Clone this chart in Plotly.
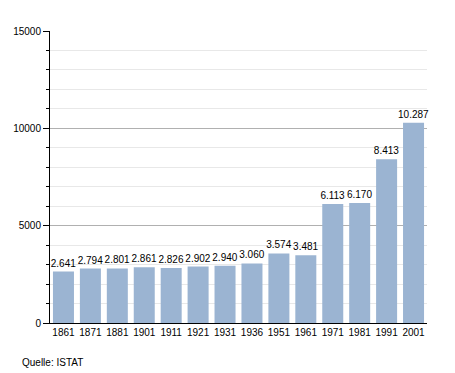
import plotly.graph_objects as go

years = ["1861", "1871", "1881", "1901", "1911", "1921", "1931", "1936",
         "1951", "1961", "1971", "1981", "1991", "2001"]
population = [2641, 2794, 2801, 2861, 2826, 2902, 2940, 3060,
              3574, 3481, 6113, 6170, 8413, 10287]
labels = [f"{v:,}".replace(",", ".") for v in population]
y_ticks = [0, 5000, 10000, 15000]
source_text = "Quelle: ISTAT"

font_family = "Liberation Sans, Arial, sans-serif"

fig = go.Figure(go.Bar(
    x=years, y=population, text=labels, textposition="outside",
    constraintext="none",
    textfont=dict(size=10, color="black", family=font_family),
    marker=dict(color="#9bb4d2", line=dict(width=0)),
    cliponaxis=False, hoverinfo="x+y",
))

fig.update_layout(
    width=447, height=365,
    margin=dict(l=42, r=28, t=23, b=50),
    paper_bgcolor="white", plot_bgcolor="white",
    bargap=0.22, showlegend=False,
    font=dict(family=font_family, size=10, color="black"),
    xaxis=dict(type="category", showline=True, linecolor="black", linewidth=1,
               ticks="", showgrid=False, tickfont=dict(size=10),
               automargin=False),
    yaxis=dict(range=[0, 15000], tickvals=y_ticks, tickformat="d",
               showline=True, automargin=False,
               linecolor="black", linewidth=1, ticks="outside", ticklen=6,
               tickcolor="black", gridcolor="#b0b0b0", gridwidth=1,
               zeroline=False, tickfont=dict(size=10),
               minor=dict(dtick=1000, ticks="outside", ticklen=3,
                          tickcolor="black", showgrid=True,
                          gridcolor="#e8e8e8", gridwidth=1)),
    annotations=[dict(text=source_text, xref="paper", yref="paper",
                      x=-0.08, y=-0.134, xanchor="left", yanchor="middle",
                      showarrow=False, font=dict(size=10, color="black"))],
)

fig.write_html("out.html")
